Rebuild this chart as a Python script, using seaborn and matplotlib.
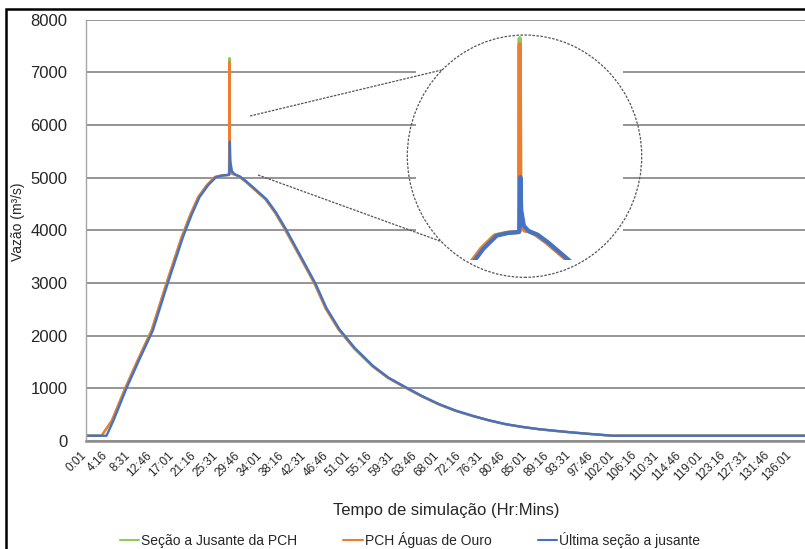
import numpy as np
import pandas as pd
import seaborn as sns
import matplotlib.pyplot as plt
from matplotlib.patches import Rectangle, Ellipse
from matplotlib.lines import Line2D
from matplotlib.transforms import ScaledTranslation

# tick labels of the time axis (Hr:Mins)
tick_labels = ["0:01", "4:16", "8:31", "12:46", "17:01", "21:16", "25:31", "29:46",
               "34:01", "38:16", "42:31", "46:46", "51:01", "55:16", "59:31", "63:46",
               "68:01", "72:16", "76:31", "80:46", "85:01", "89:16", "93:31", "97:46",
               "102:01", "106:16", "110:31", "114:46", "119:01", "123:16", "127:31",
               "131:46", "136:01"]

# Seção a Jusante da PCH (hours, m3/s)
t_green = [0, 3.1, 5.1, 7.65, 10.15, 12.75, 15.65, 18.55, 20.25, 21.75, 23.45, 24.95, 26.3,
           27.5, 27.7, 27.78, 27.84, 27.9, 28.3, 28.8, 29.6, 30.8, 32.3, 34.7, 36.6,
           38.5, 40.8, 43.4, 44.3, 46.3, 48.8, 51.8, 55.3, 58.3, 61.7, 64.8, 68.1,
           71.3, 74.6, 77.8, 81.0, 84.3, 87.4, 90.8, 93.9, 97.3, 100.3, 101.6, 139.5]
v_green = [100, 100, 390, 1000, 1550, 2100, 3003, 3870, 4300, 4630, 4860, 5010, 5040, 5050,
           5050, 7270, 5400, 5150, 5070, 5060, 5020, 4930, 4800, 4590, 4330, 4014,
           3600, 3129, 2960, 2520, 2119, 1760, 1423, 1200, 1014, 850, 697, 575,
           476, 390, 318, 265, 224, 190, 161, 133, 110, 100, 100]

# PCH Águas de Ouro
t_orange = [0, 3.1, 5.1, 7.65, 10.15, 12.75, 15.65, 18.55, 20.25, 21.75, 23.45, 24.95, 26.3,
            27.5, 27.7, 27.78, 27.84, 27.9, 28.3, 28.8, 29.6, 30.8, 32.3, 34.7, 36.6,
            38.5, 40.8, 43.4, 44.3, 46.3, 48.8, 51.8, 55.3, 58.3, 61.7, 64.8, 68.1,
            71.3, 74.6, 77.8, 81.0, 84.3, 87.4, 90.8, 93.9, 97.3, 100.3, 101.6, 139.5]
v_orange = [100, 100, 390, 1000, 1550, 2100, 3003, 3870, 4300, 4630, 4860, 5010, 5040, 5050,
            5050, 7200, 5400, 5150, 5070, 5060, 5020, 4930, 4800, 4590, 4330, 4014,
            3600, 3129, 2960, 2520, 2119, 1760, 1423, 1200, 1014, 850, 697, 575,
            476, 390, 318, 265, 224, 190, 161, 133, 110, 100, 100]

# Última seção a jusante
t_blue = [0, 4.05, 5.4, 7.9, 10.4, 13.0, 15.9, 18.8, 20.5, 22.0, 23.7, 25.2, 26.5, 27.6,
          27.75, 27.85, 27.95, 28.25, 28.8, 29.8, 31.0, 32.5, 34.9, 36.8, 38.7, 41.0,
          43.6, 44.5, 46.5, 49.0, 52.0, 55.5, 58.5, 61.9, 65.0, 68.3, 71.5, 74.8,
          78.0, 81.2, 84.5, 87.6, 91.0, 94.1, 97.5, 100.5, 101.8, 139.5]
v_blue = [100, 100, 390, 1000, 1550, 2100, 3003, 3870, 4300, 4630, 4860, 5010, 5040, 5050,
          5060, 5680, 5300, 5120, 5060, 5020, 4930, 4800, 4590, 4330, 4014, 3600,
          3129, 2960, 2520, 2119, 1760, 1423, 1200, 1014, 850, 697, 575, 476,
          390, 318, 265, 224, 190, 161, 133, 110, 100, 100]

names = ["Seção a Jusante da PCH", "PCH Águas de Ouro", "Última seção a jusante"]
colors = ["#8DCB5E", "#ED7D31", "#4472C4"]
series = [(t_green, v_green), (t_orange, v_orange), (t_blue, v_blue)]


def hours(label):
    h, m = label.split(":")
    return int(h) + int(m) / 60


sns.set_style("white")
plt.rcParams['font.family'] = ['Liberation Sans', 'DejaVu Sans']

W, H = 805, 549


def fx(px):
    return px / W


def fy(py):
    return 1 - py / H


fig = plt.figure(figsize=(W / 100, H / 100), dpi=100)
ax = fig.add_axes([fx(85.5), fy(441), fx(805) - fx(85.5), fy(19.5) - fy(441)])

for name, (t, v), c in zip(names, series, colors):
    df = pd.DataFrame({"t": t, "v": v})
    sns.lineplot(data=df, x="t", y="v", ax=ax, color=c, lw=1.7, sort=False,
                 estimator=None, legend=False)

ax.set_xlim(0, 138.8)
ax.set_ylim(0, 8000)
ax.set_yticks(np.arange(0, 8001, 1000))
ax.set_xticks([hours(s) for s in tick_labels])
ax.set_xticklabels(tick_labels, rotation=45, ha='right', rotation_mode='anchor', fontsize=8.5)
ax.tick_params(axis='x', length=0, pad=6)
ax.tick_params(axis='y', length=0, pad=13, labelsize=12)
shift = ScaledTranslation(-4 / 72, 0, fig.dpi_scale_trans)
for lbl in ax.get_xticklabels():
    lbl.set_transform(lbl.get_transform() + shift)
ax.yaxis.grid(True, color='#8c8c8c', lw=1.3)
ax.xaxis.grid(False)
ax.set_axisbelow(True)
ax.set_xlabel('')
ax.set_ylabel('')
for s in ['top', 'right']:
    ax.spines[s].set_visible(False)
ax.spines['left'].set_color('#a6a6a6')
ax.spines['left'].set_linewidth(1.0)
ax.spines['bottom'].set_color('#8c8c8c')
ax.spines['bottom'].set_linewidth(1.8)

# white background for the magnified view
fig.add_artist(Rectangle((fx(416), fy(262)), fx(623) - fx(416), fy(24) - fy(262),
                         transform=fig.transFigure, fc='white', ec='none', zorder=2))
fig.add_artist(Ellipse((fx(524.5), fy(156.2)), 234.4 / W, 242.3 / H,
                       transform=fig.transFigure, fill=False, ec='#555555', lw=0.9,
                       ls=(0, (2, 1.2)), zorder=3))
fig.add_artist(Line2D([fx(250), fx(441.7)], [fy(116), fy(70)], transform=fig.transFigure,
                      color='#555555', lw=0.9, ls=(0, (2, 1)), zorder=4))
fig.add_artist(Line2D([fx(258), fx(441.7)], [fy(175), fy(241.7)], transform=fig.transFigure,
                      color='#555555', lw=0.9, ls=(0, (2, 1)), zorder=4))

axin = fig.add_axes([fx(464), fy(260), fx(579.4) - fx(464), fy(35.6) - fy(260)], zorder=5)
for name, (t, v), c in zip(names, series, colors):
    df = pd.DataFrame({"t": t, "v": v})
    sns.lineplot(data=df, x="t", y="v", ax=axin, color=c, lw=3.0, sort=False,
                 estimator=None, legend=False)
axin.set_xlim(21.5, 34.5)
axin.set_ylim(4730, 7300)
axin.axis('off')
axin.patch.set_alpha(0)

fig.text(fx(446), fy(511), 'Tempo de simulação (Hr:Mins)', ha='center', va='center', fontsize=12)
fig.text(fx(18), fy(222), 'Vazão (m³/s)', rotation=90, ha='center', va='center', fontsize=10)

handles = [Line2D([], [], color=c, lw=1.5) for c in colors]
fig.legend(handles, names, loc='center', bbox_to_anchor=(fx(410), fy(540)), ncol=3,
           frameon=False, fontsize=10, handlelength=1.4, handletextpad=0.15,
           columnspacing=3.3)

# outer frame of the figure
fig.add_artist(Rectangle((fx(5.5), -0.1), 1.2, fy(8.5) + 0.1, transform=fig.transFigure,
                         fill=False, ec='black', lw=1.8, zorder=6))

fig.savefig('out.png', dpi=100)
